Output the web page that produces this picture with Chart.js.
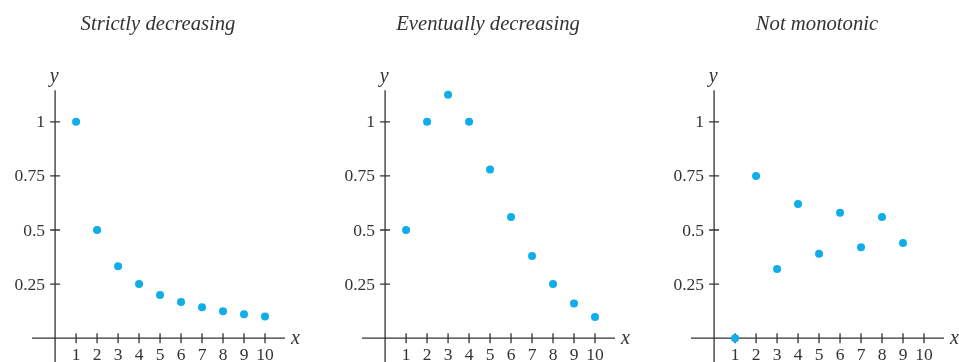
<!DOCTYPE html>
<html>
<head>
<meta charset="utf-8">
<script src="https://cdn.jsdelivr.net/npm/chart.js@4"></script>
<style>
  body { margin: 0; width: 959px; height: 362px; overflow: hidden; background: #fff; position: relative; }
  canvas { position: absolute; top: 0; }
</style>
</head>
<body>
<canvas id="c1" width="305" height="362" style="left:0px"></canvas>
<canvas id="c2" width="305" height="362" style="left:330px"></canvas>
<canvas id="c3" width="300" height="362" style="left:659px"></canvas>
<script>
  const xValues = [1, 2, 3, 4, 5, 6, 7, 8, 9, 10];
  const strictlyDecreasing = [1, 0.5, 0.333, 0.25, 0.2, 0.167, 0.143, 0.125, 0.111, 0.1];
  const eventuallyDecreasing = [0.5, 1, 1.125, 1, 0.78, 0.56, 0.38, 0.25, 0.16, 0.098];
  const notMonotonic = [0, 0.75, 0.32, 0.62, 0.39, 0.58, 0.42, 0.56, 0.44];
  const xTicks = [1, 2, 3, 4, 5, 6, 7, 8, 9, 10];
  const yTicks = [0.25, 0.5, 0.75, 1];
  const titles = ['Strictly decreasing', 'Eventually decreasing', 'Not monotonic'];

  const ink = '#333';
  const dotColor = '#0fade9';
  const serif = "'Liberation Serif', 'DejaVu Serif', serif";

  // draws the crossing axes, ticks and letters
  const axesPlugin = {
    id: 'axes',
    beforeDatasetsDraw(chart, args, opts) {
      const ctx = chart.ctx;
      const xs = chart.scales.x, ys = chart.scales.y;
      const x0 = xs.getPixelForValue(0), y0 = ys.getPixelForValue(0);
      ctx.save();
      ctx.strokeStyle = ink;
      ctx.lineWidth = 1.3;
      ctx.beginPath();
      ctx.moveTo(xs.getPixelForValue(-1.1), y0);
      ctx.lineTo(xs.getPixelForValue(10.95), y0);
      ctx.moveTo(x0, ys.getPixelForValue(1.146));
      ctx.lineTo(x0, chart.height);
      xTicks.forEach(v => {
        const p = xs.getPixelForValue(v);
        ctx.moveTo(p, y0 - 5);
        ctx.lineTo(p, y0 + 5);
      });
      yTicks.forEach(v => {
        const p = ys.getPixelForValue(v);
        ctx.moveTo(x0 - 5, p);
        ctx.lineTo(x0 + 5, p);
      });
      ctx.stroke();

      ctx.fillStyle = ink;
      ctx.font = '17.5px ' + serif;
      ctx.textAlign = 'center';
      ctx.textBaseline = 'alphabetic';
      xTicks.forEach(v => ctx.fillText(String(v), xs.getPixelForValue(v), y0 + 22));
      ctx.textAlign = 'right';
      ctx.textBaseline = 'middle';
      yTicks.forEach(v => ctx.fillText(String(v), x0 - 10, ys.getPixelForValue(v) + 1));

      ctx.font = 'italic 20px ' + serif;
      ctx.textBaseline = 'alphabetic';
      ctx.textAlign = 'center';
      ctx.fillText('y', x0 - 1, 82);
      ctx.textAlign = 'left';
      ctx.fillText('x', xs.getPixelForValue(10.95) + 6, y0 + 6);

      ctx.font = 'italic 20.7px ' + serif;
      ctx.textAlign = 'center';
      ctx.fillText(opts.title, 158, 30);
      ctx.restore();
    }
  };

  function makeChart(id, values, title) {
    const canvas = document.getElementById(id);
    const points = values.map((v, i) => ({ x: xValues[i], y: v }));
    new Chart(canvas.getContext('2d'), {
      type: 'scatter',
      data: {
        datasets: [{
          data: points,
          backgroundColor: dotColor,
          borderWidth: 0,
          pointRadius: 4
        }]
      },
      options: {
        responsive: false,
        animation: false,
        devicePixelRatio: 1,
        layout: {
          autoPadding: false,
          padding: { left: 32, right: canvas.width - 286, top: 72, bottom: 0 }
        },
        scales: {
          x: { type: 'linear', min: -1.1, max: 11, display: false },
          y: { type: 'linear', min: -0.11, max: 1.23, display: false }
        },
        plugins: {
          legend: { display: false },
          tooltip: { enabled: false },
          axes: { title: title }
        }
      },
      plugins: [axesPlugin]
    });
  }

  makeChart('c1', strictlyDecreasing, titles[0]);
  makeChart('c2', eventuallyDecreasing, titles[1]);
  makeChart('c3', notMonotonic, titles[2]);
</script>
</body>
</html>
